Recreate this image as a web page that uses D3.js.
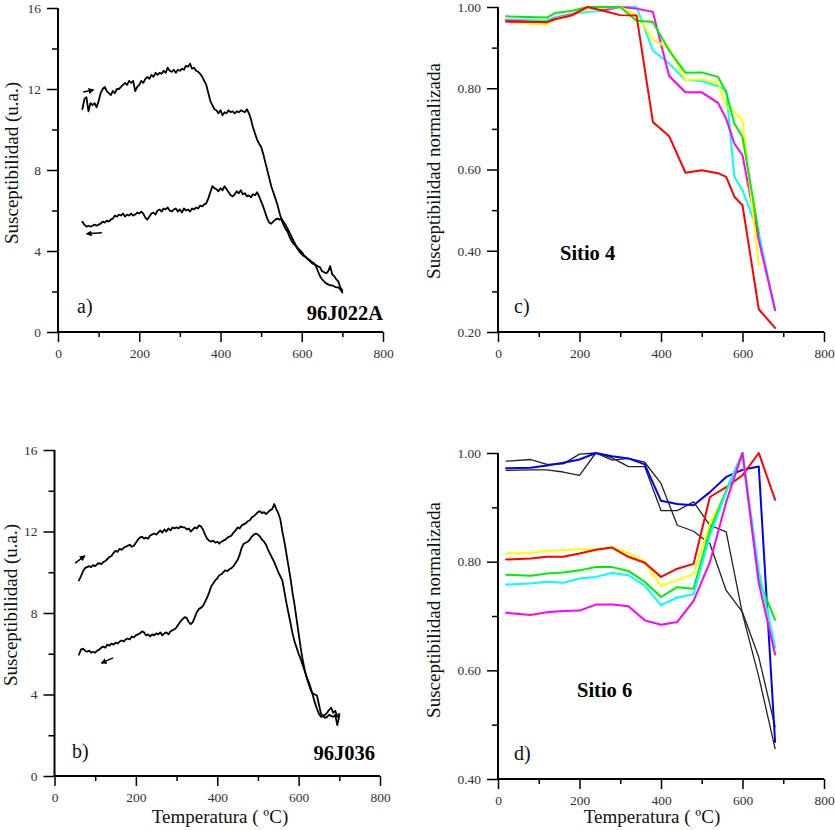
<!DOCTYPE html>
<html>
<head>
<meta charset="utf-8" />
<title>Susceptibilidad vs temperatura</title>
<style>
  body { margin: 0; background: #fff; }
  svg { display: block; font-family: "Liberation Serif", "Times New Roman", serif; }
  .curve { fill: none; stroke-linejoin: round; stroke-linecap: round; }
  .tick text { font-size: 13.5px; fill: #333; }
  .tick line { stroke: #000; stroke-width: 1.5px; }
  .axis-line { stroke: #000; stroke-width: 2px; }
  .ytitle, .xtitle { font-size: 19px; fill: #111; }
  .tag { font-size: 20px; fill: #111; }
  .name { font-size: 20.5px; font-weight: bold; fill: #000; }
</style>
</head>
<body>
<svg width="835" height="830"></svg>
<script src="https://d3js.org/d3.v7.min.js"></script>
<script>
// temperature grid of the continuous runs (a, b), 5 ºC steps
var tempGrid = [
  60, 65, 70, 75, 80, 85, 90, 95, 100, 105,
  110, 115, 120, 125, 130, 135, 140, 145, 150, 155,
  160, 165, 170, 175, 180, 185, 190, 195, 200, 205,
  210, 215, 220, 225, 230, 235, 240, 245, 250, 255,
  260, 265, 270, 275, 280, 285, 290, 295, 300, 305,
  310, 315, 320, 325, 330, 335, 340, 345, 350, 355,
  360, 365, 370, 375, 380, 385, 390, 395, 400, 405,
  410, 415, 420, 425, 430, 435, 440, 445, 450, 455,
  460, 465, 470, 475, 480, 485, 490, 495, 500, 505,
  510, 515, 520, 525, 530, 535, 540, 545, 550, 555,
  560, 565, 570, 575, 580, 585, 590, 595, 600, 605,
  610, 615, 620, 625, 630, 635, 640, 645, 650, 655,
  660, 665, 670, 675, 680, 685, 690, 695, 700];

// 96J022A
var heatA = [
  11.0, 11.5, 11.6, 10.9, 11.3, 11.2, 11.3, 11.1, 11.4, 11.8,
  12.0, 12.1, 11.9, 11.8, 11.7, 11.9, 11.8, 12.0, 12.0, 12.1,
  12.2, 12.3, 12.2, 12.4, 12.3, 12.4, 11.9, 12.1, 12.2, 12.4,
  12.3, 12.5, 12.6, 12.5, 12.7, 12.6, 12.8, 12.7, 12.8, 12.75,
  12.9, 12.8, 13.05, 12.9, 12.85, 12.95, 12.8, 12.95, 12.9, 13.0,
  12.95, 13.15, 13.1, 13.25, 13.0, 13.05, 12.9, 12.85, 12.75, 12.6,
  12.4, 12.2, 11.8, 11.4, 11.2, 11.0, 10.95, 10.8, 10.95, 10.7,
  10.85, 10.8, 10.95, 10.85, 10.9, 10.8, 10.9, 10.85, 10.95, 10.9,
  10.85, 11.0, 10.8, 10.5, 10.1, 9.8, 9.5, 9.3, 9.15, 8.8,
  8.4, 8.0, 7.6, 7.2, 6.9, 6.6, 6.3, 5.9, 5.55, 5.3,
  5.1, 4.95, 4.7, 4.5, 4.35, 4.25, 4.1, 3.95, 3.85, 3.75,
  3.7, 3.6, 3.55, 3.45, 3.4, 3.25, 3.0, 2.75, 2.6, 2.5,
  2.4, 2.35, 2.3, 2.3, 2.25, 2.2, 2.2, 2.1, 1.95];
var coolA = [
  5.45, 5.3, 5.2, 5.25, 5.2, 5.25, 5.3, 5.25, 5.3, 5.35,
  5.45, 5.4, 5.5, 5.45, 5.55, 5.6, 5.75, 5.7, 5.8, 5.75,
  5.85, 5.7, 5.8, 5.75, 5.85, 5.75, 5.8, 5.9, 5.85, 5.95,
  5.85, 5.65, 5.55, 5.7, 5.85, 5.9, 5.8, 6.0, 6.05, 5.95,
  6.1, 6.05, 6.15, 6.0, 5.95, 6.05, 6.1, 5.95, 6.05, 5.9,
  6.1, 6.0, 6.05, 5.95, 6.1, 6.05, 6.15, 6.1, 6.25, 6.2,
  6.3, 6.35, 6.6, 6.9, 7.2, 7.1, 7.05, 6.95, 7.1, 7.0,
  7.2, 7.05, 6.9, 6.75, 6.7, 6.8, 6.95, 6.85, 7.0, 6.8,
  6.85, 6.7, 6.75, 6.65, 6.8, 6.75, 6.9, 6.7, 6.45, 6.2,
  5.9, 5.6, 5.4, 5.35, 5.45, 5.55, 5.6, 5.55, 5.6, 5.45,
  5.3, 5.1, 4.9, 4.7, 4.5, 4.3, 4.15, 4.05, 3.95, 3.8,
  3.7, 3.6, 3.5, 3.4, 3.35, 3.3, 3.25, 3.2, 3.0, 2.95,
  2.9, 3.0, 3.25, 2.85, 2.75, 2.6, 2.5, 2.2, 2.05];

// 96J036
var heatB = [
  9.6, 9.8, 10.05, 10.2, 10.25, 10.3, 10.25, 10.35, 10.3, 10.4,
  10.45, 10.4, 10.5, 10.55, 10.65, 10.75, 10.8, 10.95, 11.05, 11.0,
  11.15, 11.1, 11.2, 11.25, 11.3, 11.35, 11.25, 11.3, 11.45, 11.6,
  11.7, 11.75, 11.65, 11.7, 11.65, 11.8, 11.85, 11.9, 11.85, 11.95,
  12.05, 11.95, 12.1, 12.0, 12.15, 12.05, 12.2, 12.15, 12.2, 12.15,
  12.25, 12.2, 12.2, 12.1, 12.15, 12.0, 12.1, 12.2, 12.15, 12.3,
  12.25, 12.1, 11.85, 11.65, 11.55, 11.5, 11.55, 11.45, 11.5, 11.4,
  11.5, 11.55, 11.6, 11.7, 11.75, 11.8, 11.95, 12.05, 12.2, 12.15,
  12.3, 12.35, 12.4, 12.5, 12.55, 12.7, 12.75, 12.85, 12.95, 13.0,
  12.9, 12.95, 12.85, 12.95, 13.05, 13.1, 13.35, 13.1, 12.9, 12.6,
  12.0, 11.5, 10.9, 10.3, 9.7, 9.0, 8.4, 7.7, 7.0, 6.3,
  5.7, 5.2, 4.8, 4.5, 4.2, 4.05, 4.0, 3.95, 3.5, 3.05,
  2.95, 3.0, 3.1, 3.25, 3.35, 3.1, 3.2, 2.9, 3.05];
var coolB = [
  5.95, 6.2, 6.25, 6.15, 6.1, 6.15, 6.05, 6.1, 6.05, 6.15,
  6.2, 6.3, 6.35, 6.3, 6.45, 6.4, 6.5, 6.45, 6.55, 6.5,
  6.6, 6.65, 6.6, 6.7, 6.75, 6.7, 6.85, 6.8, 6.9, 6.95,
  7.0, 7.1, 7.05, 6.9, 6.95, 6.85, 6.95, 6.9, 7.0, 6.95,
  7.05, 6.9, 7.0, 7.05, 6.95, 7.1, 7.15, 7.2, 7.3, 7.45,
  7.6, 7.7, 7.8, 7.75, 7.55, 7.45, 7.55, 7.8, 8.05, 8.2,
  8.25, 8.35, 8.55, 8.75, 9.0, 9.3, 9.45, 9.6, 9.7, 9.85,
  9.9, 10.0, 10.1, 10.05, 10.15, 10.2, 10.3, 10.45, 10.6, 10.85,
  11.2, 11.4, 11.45, 11.5, 11.6, 11.75, 11.85, 11.9, 11.85, 11.75,
  11.6, 11.5, 11.35, 11.1, 10.9, 10.7, 10.5, 10.25, 10.0, 9.8,
  9.6, 9.05, 8.5, 8.0, 7.5, 7.0, 6.6, 6.3, 6.0, 5.75,
  5.45, 5.15, 4.85, 4.6, 4.3, 3.95, 3.6, 3.3, 3.05, 2.9,
  2.95, 2.85, 2.9, 3.0, 2.95, 2.9, 3.0, 2.5, 2.95];

// Sitio 4 (normalized), measured temperatures
var tempsC = [20, 120, 140, 180, 220, 260, 300, 340, 380, 420, 460, 500, 540, 560, 580, 600, 640, 680];
var c_cyan    = [0.969, 0.967, 0.975, 0.982, 0.988, 0.990, 1.0, 1.0, 0.893, 0.861, 0.820, 0.818, 0.805, 0.795, 0.582, 0.549, 0.443, 0.253];
var c_magenta = [0.967, 0.961, 0.972, 0.982, 0.998, 0.993, 1.0, 0.996, 0.988, 0.830, 0.790, 0.790, 0.764, 0.725, 0.664, 0.635, 0.426, 0.254];
var c_yellow  = [0.963, 0.957, 0.971, 0.980, 0.996, 0.998, 1.0, 0.980, 0.920, 0.898, 0.820, 0.822, 0.813, 0.754, 0.742, 0.720, 0.365, null];
var c_green   = [0.977, 0.974, 0.985, 0.990, 1.0, 1.0, 1.0, 0.966, 0.963, 0.893, 0.838, 0.839, 0.828, 0.790, 0.713, 0.680, 0.443, null];
var c_red     = [0.964, 0.963, 0.970, 0.979, 1.0, 0.990, 0.980, 0.979, 0.717, 0.682, 0.592, 0.598, 0.591, 0.582, 0.533, 0.512, 0.256, 0.210];

// Sitio 6 (normalized)
var tempsD = [20, 80, 120, 160, 200, 240, 280, 320, 360, 400, 440, 480, 520, 560, 600, 640, 680];
var d_black1  = [0.985, 0.988, 0.979, 0.980, 0.998, 1.0, 0.987, 0.990, 0.983, 0.944, 0.867, 0.856, 0.833, 0.747, 0.707, 0.624, 0.496];
var d_black2  = [0.968, 0.969, 0.969, 0.965, 0.959, 1.0, 0.991, 0.975, 0.975, 0.894, 0.894, 0.910, 0.867, 0.855, 0.704, 0.588, 0.456];
var d_blue    = [0.972, 0.973, 0.977, 0.982, 0.988, 1.0, 0.994, 0.990, 0.979, 0.912, 0.906, 0.904, 0.928, 0.956, 0.969, 0.975, 0.468];
var d_red     = [0.804, 0.806, 0.809, 0.809, 0.815, 0.822, 0.826, 0.809, 0.798, 0.772, 0.787, 0.796, 0.919, 0.937, 0.959, 1.0, 0.914];
var d_yellow  = [0.815, 0.816, 0.820, 0.821, 0.823, 0.823, 0.827, 0.816, 0.800, 0.755, 0.766, 0.777, 0.870, 0.928, 1.0, 0.766, 0.646];
var d_green   = [0.776, 0.774, 0.778, 0.780, 0.784, 0.790, 0.790, 0.783, 0.763, 0.735, 0.753, 0.750, 0.858, 0.931, 1.0, 0.766, 0.693];
var d_cyan    = [0.758, 0.760, 0.763, 0.761, 0.769, 0.772, 0.779, 0.775, 0.756, 0.720, 0.734, 0.740, 0.848, 0.928, 1.0, 0.784, 0.642];
var d_magenta = [0.706, 0.702, 0.707, 0.709, 0.710, 0.721, 0.721, 0.718, 0.692, 0.684, 0.689, 0.728, 0.799, 0.910, 1.0, 0.760, 0.629];

var xMajor = [0, 200, 400, 600, 800],
  xMinor = [100, 300, 500, 700];

var svg = d3.select("svg");

// small heating/cooling arrows: [tail T, tail v, head T, head v]
var arrowsA = [[62, 11.85, 87, 11.95], [108, 4.9, 71, 4.85]];
var arrowsB = [[51, 10.45, 74, 10.8], [144, 5.8, 116, 5.55]];

svg.append("defs").append("marker")
  .attr("id", "head")
  .attr("viewBox", "0 0 10 10")
  .attr("refX", 8).attr("refY", 5)
  .attr("markerWidth", 4).attr("markerHeight", 4)
  .attr("orient", "auto")
  .append("path").attr("d", "M0,0L10,5L0,10z").attr("fill", "#000");

var panels = [
  { left: 58, top: 8, w: 325, h: 324, yDom: [0, 16], yMaj: [0, 4, 8, 12, 16], yMin: [2, 6, 10, 14], fmt: d3.format("d"),
    series: [{ t: tempGrid, v: heatA, c: "#000", sw: 1.8 }, { t: tempGrid, v: coolA, c: "#000", sw: 1.8 }],
    arrows: arrowsA, tag: "a)", tagPos: [19, 305], name: "96J022A", namePos: [325, 312], nameAnchor: "end",
    ytitle: "Susceptibilidad (u.a.)", ytPos: [-40, 155] },
  { left: 498, top: 7, w: 326, h: 325, yDom: [0.2, 1.0], yMaj: [0.2, 0.4, 0.6, 0.8, 1.0], yMin: [0.3, 0.5, 0.7, 0.9], fmt: d3.format(".2f"),
    series: [
      { t: tempsC, v: c_cyan, c: "#00ffff", sw: 2 },
      { t: tempsC, v: c_magenta, c: "#ff00ff", sw: 2 },
      { t: tempsC, v: c_yellow, c: "#ffff00", sw: 2 },
      { t: tempsC, v: c_green, c: "#00ee00", sw: 2 },
      { t: tempsC, v: c_red, c: "#ff0000", sw: 2 }],
    tag: "c)", tagPos: [16, 306], name: "Sitio 4", namePos: [62, 253], nameAnchor: "start",
    ytitle: "Susceptibilidad normalizada", ytPos: [-58, 164] },
  { left: 54.5, top: 450, w: 325.5, h: 326, yDom: [0, 16], yMaj: [0, 4, 8, 12, 16], yMin: [2, 6, 10, 14], fmt: d3.format("d"),
    series: [{ t: tempGrid, v: heatB, c: "#000", sw: 1.8 }, { t: tempGrid, v: coolB, c: "#000", sw: 1.8 }],
    arrows: arrowsB, tag: "b)", tagPos: [17.5, 308], name: "96J036", namePos: [320.5, 310], nameAnchor: "end",
    ytitle: "Susceptibilidad (u.a.)", ytPos: [-37.5, 155], xtitle: true, xtPos: [165.5, 373] },
  { left: 498, top: 453, w: 326, h: 326, yDom: [0.4, 1.0], yMaj: [0.4, 0.6, 0.8, 1.0], yMin: [0.5, 0.7, 0.9], fmt: d3.format(".2f"),
    series: [
      { t: tempsD, v: d_black1, c: "#222", sw: 1.3 },
      { t: tempsD, v: d_black2, c: "#222", sw: 1.3 },
      { t: tempsD, v: d_blue, c: "#0000ff", sw: 2 },
      { t: tempsD, v: d_yellow, c: "#ffff00", sw: 2 },
      { t: tempsD, v: d_red, c: "#ff0000", sw: 2 },
      { t: tempsD, v: d_green, c: "#00ee00", sw: 2 },
      { t: tempsD, v: d_cyan, c: "#00ffff", sw: 2 },
      { t: tempsD, v: d_magenta, c: "#ff00ff", sw: 2 }],
    tag: "d)", tagPos: [16, 307], name: "Sitio 6", namePos: [79, 244], nameAnchor: "start",
    ytitle: "Susceptibilidad normalizada", ytPos: [-58, 157], xtitle: true, xtPos: [154, 370] }
];

function plain(a) {
  a.attr("font-family", null).attr("font-size", null);
  a.select(".domain").remove();
}

panels.forEach(function (p) {
  var g = svg.append("g").attr("transform", "translate(" + p.left + "," + p.top + ")");
  var x = d3.scaleLinear().domain([0, 800]).range([0, p.w]);
  var y = d3.scaleLinear().domain(p.yDom).range([p.h, 0]);

  // ticks
  g.append("g").attr("transform", "translate(0," + p.h + ")")
    .call(d3.axisBottom(x).tickValues(xMinor).tickSize(5).tickSizeOuter(0).tickFormat(""))
    .call(plain);
  g.append("g").attr("transform", "translate(0," + p.h + ")")
    .call(d3.axisBottom(x).tickValues(xMajor).tickSize(10).tickPadding(6).tickSizeOuter(0).tickFormat(d3.format("d")))
    .call(plain);
  g.append("g")
    .call(d3.axisLeft(y).tickValues(p.yMin).tickSize(6).tickSizeOuter(0).tickFormat(""))
    .call(plain);
  g.append("g")
    .call(d3.axisLeft(y).tickValues(p.yMaj).tickSize(11).tickPadding(6).tickSizeOuter(0).tickFormat(p.fmt))
    .call(plain);

  // axis lines
  g.append("line").attr("class", "axis-line")
    .attr("x1", x(0)).attr("x2", x(800)).attr("y1", p.h).attr("y2", p.h);
  g.append("line").attr("class", "axis-line")
    .attr("x1", 0).attr("x2", 0).attr("y1", y(p.yDom[1])).attr("y2", p.h);

  var line = d3.line()
    .defined(d => d[1] != null)
    .x(d => x(d[0]))
    .y(d => y(d[1]));

  p.series.forEach(function (s) {
    var pts = s.t.map((t, i) => [t, s.v[i]]);
    g.append("path").attr("class", "curve")
      .attr("d", line(pts))
      .attr("stroke", s.c)
      .attr("stroke-width", s.sw);
  });

  (p.arrows || []).forEach(function (a) {
    g.append("line")
      .attr("x1", x(a[0])).attr("y1", y(a[1]))
      .attr("x2", x(a[2])).attr("y2", y(a[3]))
      .attr("stroke", "#000").attr("stroke-width", 1.5)
      .attr("marker-end", "url(#head)");
  });

  g.append("text").attr("class", "tag")
    .attr("x", p.tagPos[0]).attr("y", p.tagPos[1]).text(p.tag);
  g.append("text").attr("class", "name")
    .attr("x", p.namePos[0]).attr("y", p.namePos[1])
    .attr("text-anchor", p.nameAnchor).text(p.name);

  g.append("text").attr("class", "ytitle")
    .attr("transform", "translate(" + p.ytPos[0] + "," + p.ytPos[1] + ") rotate(-90)")
    .attr("text-anchor", "middle").text(p.ytitle);

  if (p.xtitle) {
    g.append("text").attr("class", "xtitle")
      .attr("x", p.xtPos[0]).attr("y", p.xtPos[1])
      .attr("text-anchor", "middle").text("Temperatura ( ºC)");
  }
});
</script>
</body>
</html>
